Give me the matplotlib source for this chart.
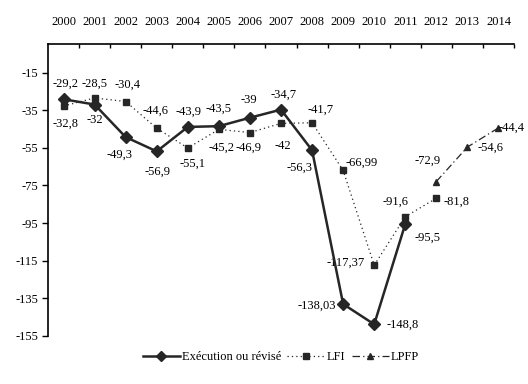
import numpy as np
import matplotlib.pyplot as plt
from matplotlib.lines import Line2D

plt.rcParams['font.family'] = 'Liberation Serif'
plt.rcParams['font.size'] = 9

years = [str(y) for y in range(2000, 2015)]

# Execution ou revise (2000-2011)
execution = [-29.2, -32, -49.3, -56.9, -43.9, -43.5, -39, -34.7, -56.3, -138.03, -148.8, -95.5]
exec_labels = ["-29,2", "-32", "-49,3", "-56,9", "-43,9", "-43,5", "-39", "-34,7", "-56,3", "-138,03", "-148,8", "-95,5"]

# LFI (2000-2012)
lfi = [-32.8, -28.5, -30.4, -44.6, -55.1, -45.2, -46.9, -42, -41.7, -66.99, -117.37, -91.6, -81.8]
lfi_labels = ["-32,8", "-28,5", "-30,4", "-44,6", "-55,1", "-45,2", "-46,9", "-42", "-41,7", "-66,99", "-117,37", "-91,6", "-81,8"]

# LPFP (2012-2014)
lpfp_years = [12, 13, 14]
lpfp = [-72.9, -54.6, -44.4]
lpfp_labels = ["-72,9", "-54,6", "-44,4"]

# label offsets in pixels (dx, dy)
exec_off = [(2, 16), (0, -15), (-6, -18), (1, -20), (1, 15), (0, 17), (-1, 18), (3, 15),
            (-13, -17), (-26, -2), (28, 0), (22, -14)]
lfi_off = [(2, -18), (0, 14), (2, 17), (-1, 18), (5, -16), (3, -18), (-1, -15), (2, -23),
           (9, 13), (19, 8), (-29, 2), (-10, 15), (20, -3)]
lpfp_off = [(-9, 21), (23, -1), (13, 0)]

col = '#262626'

fig = plt.figure(figsize=(5.28, 3.84), dpi=100)
ax = fig.add_axes([0.0909, 0.125, 0.8826, 0.7596])

x = np.arange(len(years))
ax.plot(x[:len(execution)], execution, color=col, lw=1.8, marker='D', ms=6.5, zorder=4)
ax.plot(x[:len(lfi)], lfi, color=col, lw=0.9, ls=(0, (1, 2.5)), marker='s', ms=4.8, zorder=3)
ax.plot(lpfp_years, lpfp, color=col, lw=0.9, ls=(0, (6, 2.5, 1, 2.5)), marker='^', ms=5, zorder=3)

for xs, vals, labs, offs in [(x, execution, exec_labels, exec_off),
                             (x, lfi, lfi_labels, lfi_off),
                             (lpfp_years, lpfp, lpfp_labels, lpfp_off)]:
    for xi, v, t, o in zip(xs, vals, labs, offs):
        ax.annotate(t, (xi, v), xytext=o, textcoords='offset pixels',
                    ha='center', va='center', color='black')

ax.set_xlim(-0.5, 14.5)
ax.set_ylim(-155, 0)
ax.set_yticks(np.arange(-15, -156, -20))
ax.set_yticklabels([str(v) for v in range(-15, -156, -20)])
ax.tick_params(axis='y', direction='out', length=4, width=1, pad=3)

ax.xaxis.tick_top()
ax.set_xticks(x)
ax.set_xticklabels(years)
ax.tick_params(axis='x', which='major', length=0, pad=12)
ax.set_xticks(np.arange(0.5, 15, 1), minor=True)
ax.tick_params(axis='x', which='minor', direction='in', length=3, width=1, top=True, bottom=False)

for s in ['right', 'bottom']:
    ax.spines[s].set_visible(False)
for s in ['top', 'left']:
    ax.spines[s].set_linewidth(1.2)
    ax.spines[s].set_color('black')

handles = [
    Line2D([], [], color=col, lw=1.8, marker='D', ms=5),
    Line2D([], [], color=col, lw=0.9, ls=(0, (1, 2.5)), marker='s', ms=4.5),
    Line2D([], [], color=col, lw=0.9, ls=(0, (6, 2.5, 1, 2.5)), marker='^', ms=4.5),
]
fig.legend(handles, ['Exécution ou révisé', 'LFI', 'LPFP'], loc='center',
           bbox_to_anchor=(0.532, 0.07), ncol=3, frameon=False, handlelength=3.0,
           handletextpad=0.15, columnspacing=0.5)

fig.savefig('out.png', dpi=100)
